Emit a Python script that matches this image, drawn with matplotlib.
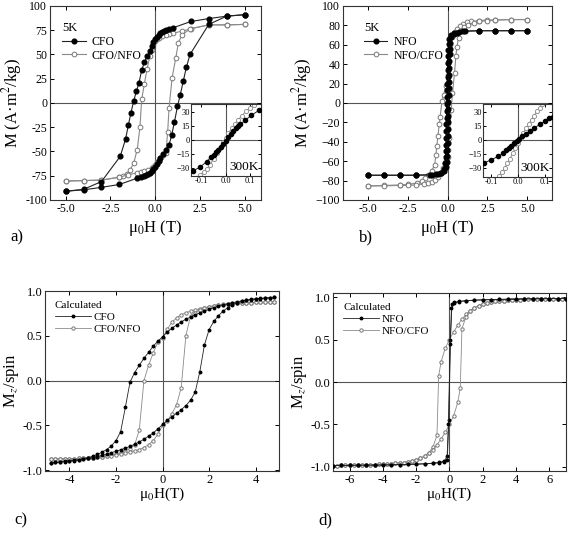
import numpy as np
import matplotlib
matplotlib.use("Agg")
import matplotlib.pyplot as plt

plt.rcParams['font.family'] = ['Liberation Serif', 'DejaVu Serif']
plt.rcParams['mathtext.fontset'] = 'stix'

# ---- a) measured loops at 5K (CFO, CFO/NFO) ----
cfo_a_down_h = [5, 4, 3, 2, 1, 0.8, 0.6, 0.5, 0.4, 0.3, 0.2, 0.1, 0, -0.1, -0.2, -0.3, -0.45, -0.6, -0.75,
                -0.9, -1.05, -1.2, -1.35, -1.5, -1.65, -1.95, -3, -4, -5]
cfo_a_down_m = [91, 89.5, 87, 84, 77.5, 76, 75, 74, 73, 72, 70.5, 68.5, 66, 63, 59, 54, 48, 42, 34,
                21, 12, 2, -10, -23, -37, -55, -81, -89, -91]
cfo_a_up_h = [-5, -4, -3, -2, -1, -0.8, -0.6, -0.5, -0.4, -0.3, -0.2, -0.1, 0, 0.1, 0.2, 0.3, 0.45, 0.6,
              0.78, 0.93, 1.08, 1.25, 1.4, 1.58, 1.75, 1.95, 3, 4, 5]
cfo_a_up_m = [-91, -89.5, -87, -84, -77.5, -76, -75, -74, -73, -72, -70.5, -68.5, -66, -63, -60, -57, -53, -48,
              -43, -33, -19.5, -3.5, 8, 23, 37, 50, 81, 89.5, 91]
cfonfo_a_down_h = [5, 4, 3, 2, 1.5, 1, 0.8, 0.6, 0.4, 0.2, 0.1, 0, -0.1, -0.2, -0.3, -0.45, -0.6, -0.75,
                   -0.85, -1.0, -1.2, -1.4, -1.6, -1.8, -2.0, -3, -4, -5]
cfonfo_a_down_m = [81, 80.5, 80.5, 76.5, 74, 72, 71, 70, 69, 67, 65.5, 63.5, 60, 55, 48, 35, 20, 4,
                   -25, -48, -62, -69, -73, -75, -76.5, -79.5, -80, -80.5]
cfonfo_a_up_h = [-5, -4, -3, -2, -1.5, -1, -0.8, -0.6, -0.4, -0.2, -0.1, 0, 0.1, 0.2, 0.3, 0.45, 0.6, 0.7,
                 0.78, 0.95, 1.15, 1.3, 1.5, 1.95, 3, 4, 5]
cfonfo_a_up_m = [-80.5, -80, -79.5, -76.5, -74, -72, -71, -70, -69, -67, -65.5, -63.5, -61, -59, -57, -54, -52, -30,
                 -5, 26, 46, 62, 70, 76.5, 80.5, 80.5, 81]
# inset a (300K)
cfo_in_h = [-0.135, -0.105, -0.078, -0.06, -0.05, -0.04, -0.03, -0.02, -0.01, 0, 0.01, 0.02, 0.03, 0.04,
            0.05, 0.06, 0.08, 0.105, 0.135]
cfo_in_m = [-33, -29, -23, -18, -15.5, -13, -10.5, -7.5, -4, -0.5, 3.5, 7, 10, 13, 15, 17, 21.5, 27, 32]
cfonfo_in_h = [-0.125, -0.105, -0.09, -0.078, -0.064, -0.05, -0.037, -0.023, -0.01, 0.0, 0.011, 0.024,
               0.038, 0.05, 0.065, 0.082, 0.1, 0.115]
cfonfo_in_m = [-41, -37, -34, -31, -26.5, -20, -14, -8.5, -1.5, 2.5, 7.5, 13, 18, 22, 26, 31, 35, 38]

# ---- b) measured loops at 5K (NFO, NFO/CFO) ----
nfo_b_down_h = [5, 4, 3, 2, 1, 0.6, 0.38, 0.21, 0.12, 0.08, 0.05, 0.03, 0.02, 0.01, 0, -0.01, -0.02, -0.03,
                -0.04, -0.05, -0.06, -0.07, -0.08, -0.09, -0.1, -0.11, -0.12, -0.14, -0.19, -0.4, -0.7, -1.1,
                -2, -3, -4, -5]
nfo_b_down_m = [74.5, 74.5, 74.5, 74.5, 74, 72.5, 71, 70, 66, 61, 55, 48, 41, 34, 27, 20, 13, 6,
                -1, -8, -15, -22, -29, -36, -43, -50, -56, -62, -68, -72, -73, -74,
                -74.5, -74.5, -74.5, -74.5]
nfo_b_up_h = [-5, -4, -3, -2, -1, -0.6, -0.38, -0.2, -0.1, -0.06, -0.03, -0.01, 0, 0.01, 0.02, 0.03, 0.04,
              0.05, 0.06, 0.07, 0.08, 0.09, 0.1, 0.11, 0.12, 0.13, 0.14, 0.16, 0.21, 0.4, 0.7, 1.1,
              2, 3, 4, 5]
nfo_b_up_m = [-74.5, -74.5, -74.5, -74.5, -74, -73, -72, -70, -66, -61, -55, -48, -41, -34, -27, -20, -13,
              -6, 1, 8, 15, 22, 29, 36, 43, 50, 56, 62, 68, 72, 73, 74,
              74.5, 74.5, 74.5, 74.5]
nfocfo_b_down_h = [5, 4, 3, 2.5, 2, 1.5, 1.2, 1.0, 0.8, 0.6, 0.45, 0.3, 0.17, 0.1, 0.05, 0, -0.1, -0.25,
                   -0.35, -0.46, -0.52, -0.6, -0.67, -0.73, -0.81, -1.0, -1.2, -1.4, -1.6, -1.9, -2.5, -3,
                   -4, -5]
nfocfo_b_down_m = [86, 86, 85.5, 85.5, 85, 84, 83, 81.5, 79.5, 76.5, 73, 68, 60, 51, 41, 29, 17, 8.5,
                   1.6, -14, -22, -34, -44, -54, -64, -70, -74, -77.5, -80, -82.5, -84, -84.5,
                   -85, -85.5]
nfocfo_b_up_h = [-5, -4, -3, -2.5, -2, -1.5, -1.2, -1, -0.8, -0.6, -0.45, -0.3, -0.17, -0.1, 0, 0.06, 0.1,
                 0.23, 0.31, 0.44, 0.52, 0.59, 0.69, 0.84, 1.04, 1.31, 1.67, 2, 2.5, 3, 4, 5]
nfocfo_b_up_m = [-85.5, -85.5, -85, -85, -84.5, -83.5, -82.5, -81, -79, -76, -72.5, -67.5, -62, -59, -56, -48,
                 -36, -7, 10, 31, 48, 58, 67, 74, 78.5, 80.5, 82.5, 84, 85, 85.5, 86, 86]
# inset b (300K)
nfo_in_h = [-0.126, -0.1, -0.074, -0.055, -0.045, -0.035, -0.025, -0.015, -0.005, 0.005, 0.015, 0.03,
            0.045, 0.06, 0.08, 0.1, 0.115, 0.13]
nfo_in_m = [-24.5, -21, -17.5, -14, -11, -8.5, -6, -3.5, -1, 1.5, 4, 7, 10, 13, 17, 20.5, 23.5, 25]
nfocfo_in_h = [-0.08, -0.07, -0.06, -0.05, -0.04, -0.03, -0.02, -0.01, 0, 0.01, 0.02, 0.03, 0.04, 0.05,
               0.06, 0.07, 0.08, 0.09]
nfocfo_in_m = [-42, -38, -34, -30, -25, -20, -14, -8.5, -3, 2.5, 8, 13, 17.5, 22, 26.5, 31, 35, 39]

# ---- c) calculated loops (CFO, CFO/NFO) ----
h_calc_c = [-4.8, -4.6, -4.4, -4.2, -4.0, -3.8, -3.6, -3.4, -3.2, -3.0, -2.8, -2.6, -2.4, -2.2, -2.0,
            -1.8, -1.6, -1.4, -1.2, -1.0, -0.8, -0.6, -0.4, -0.2, 0.0, 0.2, 0.4, 0.6, 0.8, 1.0, 1.2, 1.4,
            1.6, 1.8, 2.0, 2.2, 2.4, 2.6, 2.8, 3.0, 3.2, 3.4, 3.6, 3.8, 4.0, 4.2, 4.4, 4.6, 4.8]
cfo_c_down = [-0.918, -0.913, -0.908, -0.903, -0.897, -0.89, -0.882, -0.872, -0.86, -0.845, -0.825, -0.8,
              -0.77, -0.73, -0.67, -0.57, -0.3, -0.02, 0.09, 0.17, 0.25, 0.315, 0.385, 0.44, 0.49, 0.54,
              0.585, 0.62, 0.655, 0.685, 0.71, 0.735, 0.755, 0.775, 0.795, 0.815, 0.83, 0.845, 0.858,
              0.87, 0.88, 0.89, 0.898, 0.905, 0.911, 0.916, 0.92, 0.924, 0.928]
cfo_c_up = [-0.918, -0.914, -0.91, -0.905, -0.9, -0.894, -0.887, -0.879, -0.87, -0.86, -0.848, -0.835,
            -0.82, -0.805, -0.79, -0.773, -0.755, -0.735, -0.71, -0.685, -0.655, -0.62, -0.585, -0.54,
            -0.49, -0.445, -0.405, -0.365, -0.325, -0.28, -0.22, -0.13, 0.1, 0.4, 0.57, 0.66, 0.725,
            0.775, 0.815, 0.848, 0.87, 0.886, 0.898, 0.906, 0.913, 0.918, 0.922, 0.925, 0.928]
cfonfo_c_down = [-0.875, -0.875, -0.874, -0.873, -0.872, -0.871, -0.869, -0.867, -0.864, -0.86, -0.855,
                 -0.848, -0.84, -0.83, -0.82, -0.805, -0.785, -0.76, -0.72, -0.55, 0.0, 0.17, 0.31, 0.43,
                 0.47, 0.575, 0.65, 0.7, 0.735, 0.758, 0.775, 0.79, 0.803, 0.815, 0.826, 0.836, 0.845,
                 0.852, 0.858, 0.863, 0.866, 0.868, 0.87, 0.871, 0.872, 0.873, 0.874, 0.875, 0.875]
cfonfo_c_up = [-0.875, -0.875, -0.874, -0.873, -0.872, -0.871, -0.869, -0.867, -0.864, -0.86, -0.856,
               -0.851, -0.845, -0.838, -0.83, -0.82, -0.81, -0.798, -0.785, -0.77, -0.748, -0.715, -0.67,
               -0.6, -0.5, -0.45, -0.37, -0.27, -0.08, 0.5, 0.72, 0.76, 0.785, 0.805, 0.82, 0.83, 0.84,
               0.848, 0.855, 0.86, 0.864, 0.867, 0.869, 0.871, 0.872, 0.873, 0.874, 0.875, 0.875]

# ---- d) calculated loops (NFO, NFO/CFO) ----
nfo_d_down_h = [7, 6.5, 6, 5.5, 5, 4.5, 4, 3.5, 3, 2.5, 2, 1.5, 1, 0.6, 0.3, 0.15, 0.06, -0.04, -0.12,
                -0.3, -0.6, -1, -1.5, -2, -2.5, -3, -3.5, -4, -4.5, -5, -5.5, -6, -6.5, -7]
nfo_d_down_m = [0.985, 0.984, 0.983, 0.982, 0.981, 0.98, 0.978, 0.977, 0.975, 0.973, 0.97, 0.966, 0.96,
                0.952, 0.94, 0.92, 0.49, -0.45, -0.87, -0.93, -0.948, -0.958, -0.964, -0.968, -0.971,
                -0.974, -0.976, -0.978, -0.98, -0.981, -0.982, -0.983, -0.984, -0.985]
nfo_d_up_h = [-7, -6.5, -6, -5.5, -5, -4.5, -4, -3.5, -3, -2.5, -2, -1.5, -1, -0.6, -0.3, -0.15, -0.06,
              0.04, 0.12, 0.3, 0.6, 1, 1.5, 2, 2.5, 3, 3.5, 4, 4.5, 5, 5.5, 6, 6.5, 7]
nfo_d_up_m = [-0.985, -0.984, -0.983, -0.982, -0.981, -0.98, -0.978, -0.977, -0.975, -0.973, -0.97, -0.966,
              -0.96, -0.952, -0.94, -0.92, -0.49, 0.45, 0.87, 0.93, 0.948, 0.958, 0.964, 0.968, 0.971,
              0.974, 0.976, 0.978, 0.98, 0.981, 0.982, 0.983, 0.984, 0.985]
nfocfo_d_down_h = [-7, -6.75, -6.5, -6.25, -6, -5.75, -5.5, -5.25, -5, -4.75, -4.5, -4.25, -4, -3.75, -3.5,
                   -3.25, -3, -2.75, -2.5, -2.25, -2, -1.75, -1.5, -1.25, -1, -0.75, -0.65, -0.5, -0.25, 0,
                   0.25, 0.5, 0.75, 1, 1.25, 1.5, 1.75, 2, 2.25, 2.5, 2.75, 3, 3.25, 3.5, 3.75, 4, 4.25,
                   4.5, 4.75, 5, 5.25, 5.5, 5.75, 6, 6.25, 6.5, 6.75, 7]
nfocfo_d_down_m = [-0.985, -0.985, -0.984, -0.984, -0.983, -0.982, -0.981, -0.98, -0.979, -0.977, -0.975,
                   -0.973, -0.971, -0.968, -0.965, -0.961, -0.956, -0.95, -0.942, -0.932, -0.918, -0.9,
                   -0.875, -0.835, -0.77, -0.63, 0.07, 0.24, 0.4, 0.5, 0.59, 0.67, 0.74, 0.8, 0.84, 0.875,
                   0.9, 0.918, 0.932, 0.942, 0.95, 0.956, 0.961, 0.965, 0.968, 0.971, 0.973, 0.975, 0.977,
                   0.979, 0.98, 0.981, 0.982, 0.983, 0.984, 0.984, 0.985, 0.985]
nfocfo_d_up_h = [-7, -6.75, -6.5, -6.25, -6, -5.75, -5.5, -5.25, -5, -4.75, -4.5, -4.25, -4, -3.75, -3.5,
                 -3.25, -3, -2.75, -2.5, -2.25, -2, -1.75, -1.5, -1.25, -1, -0.75, -0.5, -0.25, 0, 0.25,
                 0.5, 0.65, 0.75, 1, 1.25, 1.5, 1.75, 2, 2.25, 2.5, 2.75, 3, 3.25, 3.5, 3.75, 4, 4.25,
                 4.5, 4.75, 5, 5.25, 5.5, 5.75, 6, 6.25, 6.5, 6.75, 7]
nfocfo_d_up_m = [-0.985, -0.985, -0.984, -0.984, -0.983, -0.982, -0.981, -0.98, -0.979, -0.977, -0.975,
                 -0.973, -0.971, -0.968, -0.965, -0.961, -0.956, -0.95, -0.942, -0.932, -0.918, -0.9,
                 -0.875, -0.84, -0.8, -0.74, -0.67, -0.59, -0.5, -0.4, -0.24, -0.07, 0.63, 0.77, 0.835,
                 0.875, 0.9, 0.918, 0.932, 0.942, 0.95, 0.956, 0.961, 0.965, 0.968, 0.971, 0.973, 0.975,
                 0.977, 0.979, 0.98, 0.981, 0.982, 0.983, 0.984, 0.984, 0.985, 0.985]

DARK = '#222222'
GREY = '#8a8a8a'
AXC = '#333333'


def style(ax, fs):
    ax.tick_params(direction='in', top=True, right=True, labelsize=fs, width=0.7, length=3,
                   pad=2, colors='black')
    for s in ax.spines.values():
        s.set_linewidth(0.8)
        s.set_color(AXC)
    ax.axhline(0, color='#555555', lw=0.8, zorder=1)
    ax.axvline(0, color='#555555', lw=0.8, zorder=1)


def loop(ax, h1, m1, h2, m2, filled, ms, lw, label):
    if filled:
        kw = dict(color=DARK, marker='o', ms=ms, mfc='black', mec='black', lw=lw, zorder=3)
    else:
        kw = dict(color=GREY, marker='o', ms=ms, mfc='white', mec='#777777', mew=0.7, lw=lw, zorder=2)
    ax.plot(h1, m1, label=label, **kw)
    ax.plot(h2, m2, **kw)


fig = plt.figure(figsize=(5.68, 5.33), dpi=100)

# a)
ax = fig.add_axes([0.088, 0.6248, 0.3715, 0.364])
style(ax, 8.5)
loop(ax, cfo_a_down_h, cfo_a_down_m, cfo_a_up_h, cfo_a_up_m, True, 3.4, 0.8, 'CFO')
loop(ax, cfonfo_a_down_h, cfonfo_a_down_m, cfonfo_a_up_h, cfonfo_a_up_m, False, 3.4, 0.8, 'CFO/NFO')
ax.set_xlim(-5.88, 5.92)
ax.set_ylim(-100, 100)
ax.set_xticks([-5, -2.5, 0, 2.5, 5])
ax.set_xticklabels(['-5.0', '-2.5', '0.0', '2.5', '5.0'])
ax.set_yticks([-100, -75, -50, -25, 0, 25, 50, 75, 100])
ax.set_yticklabels(['-100', '-75', '-50', '-25', '0', '25', '50', '75', '100'])
ax.set_xlabel('μ$_0$H (T)', fontsize=12, labelpad=2)
ax.set_ylabel('M (A·m$^2$/kg)', fontsize=12, labelpad=1)
ax.legend(title='5K', loc='upper left', bbox_to_anchor=(0.02, 0.96), frameon=False, fontsize=8.5,
          title_fontsize=9, alignment='left', handlelength=2.0, handletextpad=0.5, borderpad=0.2,
          labelspacing=0.15)

ins = fig.add_axes([0.3363, 0.6698, 0.1232, 0.1351])
ins.set_facecolor('white')
style(ins, 6)
ins.plot(cfo_in_h, cfo_in_m, color=DARK, marker='o', ms=3, mfc='black', mec='black', lw=0.7, zorder=3)
ins.plot(cfonfo_in_h, cfonfo_in_m, color=GREY, marker='o', ms=3, mfc='white', mec='#888888', mew=0.6,
         lw=0.7, zorder=2)
ins.set_xlim(-0.142, 0.144)
ins.set_ylim(-38.5, 39)
ins.set_xticks([-0.1, 0.0, 0.1])
ins.set_xticklabels(['-0.1', '0.0', '0.1'])
ins.set_yticks([-30, -15, 0, 15, 30])
ins.tick_params(pad=1, length=2)
ins.text(0.97, 0.04, '300K', transform=ins.transAxes, ha='right', va='bottom', fontsize=9.5)

# b)
ax = fig.add_axes([0.6039, 0.6248, 0.368, 0.364])
style(ax, 8.5)
loop(ax, nfo_b_down_h, nfo_b_down_m, nfo_b_up_h, nfo_b_up_m, True, 3.4, 0.8, 'NFO')
loop(ax, nfocfo_b_down_h, nfocfo_b_down_m, nfocfo_b_up_h, nfocfo_b_up_m, False, 3.4, 0.8, 'NFO/CFO')
ax.set_xlim(-6.55, 6.55)
ax.set_ylim(-100, 100)
ax.set_xticks([-5, -2.5, 0, 2.5, 5])
ax.set_xticklabels(['-5.0', '-2.5', '0.0', '2.5', '5.0'])
ax.set_yticks(list(range(-100, 101, 20)))
ax.set_xlabel('μ$_0$H (T)', fontsize=12, labelpad=2)
ax.set_ylabel('M (A·m$^2$/kg)', fontsize=12, labelpad=1)
ax.legend(title='5K', loc='upper left', bbox_to_anchor=(0.06, 0.96), frameon=False, fontsize=8.5,
          title_fontsize=9, alignment='left', handlelength=2.0, handletextpad=0.5, borderpad=0.2,
          labelspacing=0.15)

ins = fig.add_axes([0.8504, 0.668, 0.1215, 0.137])
ins.set_facecolor('white')
style(ins, 6)
ins.plot(nfo_in_h, nfo_in_m, color=DARK, marker='o', ms=3, mfc='black', mec='black', lw=0.7, zorder=3)
ins.plot(nfocfo_in_h, nfocfo_in_m, color=GREY, marker='o', ms=3, mfc='white', mec='#888888', mew=0.6,
         lw=0.7, zorder=2)
ins.set_xlim(-0.13, 0.126)
ins.set_ylim(-39.5, 39)
ins.set_xticks([-0.1, 0.0, 0.1])
ins.set_xticklabels(['-0.1', '0.0', '0.1'])
ins.set_yticks([-30, -15, 0, 15, 30])
ins.tick_params(pad=1, length=2)
ins.text(0.97, 0.04, '300K', transform=ins.transAxes, ha='right', va='bottom', fontsize=9.5)

# c)
ax = fig.add_axes([0.0792, 0.1163, 0.412, 0.3377])
style(ax, 9)
loop(ax, h_calc_c, cfo_c_down, h_calc_c, cfo_c_up, True, 1.8, 0.6, 'CFO')
loop(ax, h_calc_c, cfonfo_c_down, h_calc_c, cfonfo_c_up, False, 2.4, 0.6, 'CFO/NFO')
ax.set_xlim(-5.05, 5.0)
ax.set_ylim(-1.01, 1.0)
ax.set_xticks([-4, -2, 0, 2, 4])
ax.set_yticks([-1.0, -0.5, 0.0, 0.5, 1.0])
ax.set_yticklabels(['-1.0', '-0.5', '0.0', '0.5', '1.0'])
ax.set_xticklabels(['-4', '-2', '0', '2', '4'])
ax.set_xlabel('μ$_0$H(T)', fontsize=11, labelpad=0)
ax.set_ylabel('M$_z$/spin', fontsize=12, labelpad=1)
ax.legend(title='Calculated', loc='upper left', bbox_to_anchor=(0.0, 1.0), frameon=False, fontsize=8,
          title_fontsize=8, alignment='left', handlelength=3.2, handletextpad=0.3, borderpad=0.4,
          labelspacing=0.2)

# d)
ax = fig.add_axes([0.5863, 0.1163, 0.410, 0.334])
style(ax, 9)
loop(ax, nfo_d_down_h, nfo_d_down_m, nfo_d_up_h, nfo_d_up_m, True, 1.8, 0.6, 'NFO')
loop(ax, nfocfo_d_down_h, nfocfo_d_down_m, nfocfo_d_up_h, nfocfo_d_up_m, False, 2.4, 0.6, 'NFO/CFO')
ax.set_xlim(-7, 7)
ax.set_ylim(-1.05, 1.05)
ax.set_xticks([-6, -4, -2, 0, 2, 4, 6])
ax.set_xticklabels(['-6', '-4', '-2', '0', '2', '4', '6'])
ax.set_yticks([-1.0, -0.5, 0.0, 0.5, 1.0])
ax.set_yticklabels(['-1.0', '-0.5', '0.0', '0.5', '1.0'])
ax.set_xlabel('μ$_0$H(T)', fontsize=11, labelpad=0)
ax.set_ylabel('M$_z$/spin', fontsize=12, labelpad=1)
ax.legend(title='Calculated', loc='upper left', bbox_to_anchor=(0.0, 1.0), frameon=False, fontsize=8,
          title_fontsize=8, alignment='left', handlelength=3.2, handletextpad=0.3, borderpad=0.4,
          labelspacing=0.2)

fig.text(0.03, 0.555, 'a)', fontsize=12, va='center', ha='center')
fig.text(0.644, 0.555, 'b)', fontsize=12, va='center', ha='center')
fig.text(0.037, 0.023, 'c)', fontsize=12, va='center', ha='center')
fig.text(0.573, 0.023, 'd)', fontsize=12, va='center', ha='center')

fig.savefig('out.png', dpi=100)
